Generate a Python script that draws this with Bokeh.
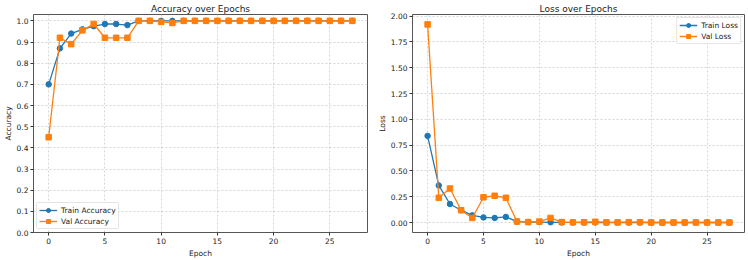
from bokeh.plotting import figure
from bokeh.layouts import row
from bokeh.models import FixedTicker, Range1d, NumeralTickFormatter
from bokeh.embed import file_html
from bokeh.resources import INLINE

epochs = list(range(28))
train_acc = [0.70, 0.87, 0.94, 0.96, 0.975, 0.985, 0.985, 0.98, 1.0, 1.0, 1.0, 1.0, 1.0, 1.0,
             1.0, 1.0, 1.0, 1.0, 1.0, 1.0, 1.0, 1.0, 1.0, 1.0, 1.0, 1.0, 1.0, 1.0]
val_acc = [0.45, 0.92, 0.89, 0.955, 0.985, 0.92, 0.92, 0.92, 1.0, 1.0, 0.995, 0.99, 1.0, 1.0,
           1.0, 1.0, 1.0, 1.0, 1.0, 1.0, 1.0, 1.0, 1.0, 1.0, 1.0, 1.0, 1.0, 1.0]
train_loss = [0.84, 0.36, 0.18, 0.12, 0.07, 0.05, 0.045, 0.055, 0.01, 0.005, 0.005, 0.003, 0.002, 0.002,
              0.001, 0.001, 0.001, 0.001, 0.001, 0.001, 0.001, 0.001, 0.001, 0.001, 0.001, 0.001, 0.001, 0.001]
val_loss = [1.92, 0.24, 0.33, 0.12, 0.045, 0.245, 0.26, 0.24, 0.01, 0.005, 0.01, 0.045, 0.005, 0.003,
            0.003, 0.008, 0.002, 0.002, 0.004, 0.004, 0.001, 0.001, 0.001, 0.001, 0.001, 0.001, 0.001, 0.001]
x_ticks = [0, 5, 10, 15, 20, 25]
acc_ticks = [0.0, 0.1, 0.2, 0.3, 0.4, 0.5, 0.6, 0.7, 0.8, 0.9, 1.0]
loss_ticks = [0.0, 0.25, 0.5, 0.75, 1.0, 1.25, 1.5, 1.75, 2.0]

BLUE = "#1f77b4"
ORANGE = "#ff7f0e"
FONT = "DejaVu Sans"


def make(title, ylabel, y0, y1, yticks, fmt, series, legend_loc, min_left, min_right):
    p = figure(width=374, height=260, output_backend="svg", toolbar_location=None,
               x_range=Range1d(-1.35, 28.35), y_range=Range1d(y0, y1),
               min_border_left=min_left, min_border_right=min_right, min_border_top=4,
               min_border_bottom=27)
    p.title.text = title
    p.title.align = "center"
    p.title.text_font = FONT
    p.title.text_font_size = "9px"
    p.title.text_font_style = "normal"
    p.title.text_color = "#222222"
    p.title.offset = 0
    p.title.standoff = 2
    for ys, color, marker, label in series:
        p.line(epochs, ys, color=color, line_width=1.3, legend_label=label)
        p.scatter(epochs, ys, marker=marker, size=5.5,
                  fill_color=color, line_color=color, legend_label=label)
    for ax in (p.xaxis, p.yaxis):
        ax.axis_line_color = None
        ax.minor_tick_line_color = None
        ax.major_tick_line_color = "#333333"
        ax.major_tick_out = 3
        ax.major_tick_in = 0
        ax.major_label_text_font = FONT
        ax.major_label_text_font_size = "7.5px"
        ax.major_label_text_color = "#222222"
        ax.axis_label_text_font = FONT
        ax.axis_label_text_font_size = "7.5px"
        ax.axis_label_text_font_style = "normal"
        ax.axis_label_text_color = "#222222"
        ax.major_label_standoff = 2
        ax.axis_label_standoff = 2
    p.yaxis.axis_label_standoff = 1
    p.xaxis.ticker = FixedTicker(ticks=x_ticks)
    p.yaxis.ticker = FixedTicker(ticks=yticks)
    p.yaxis.formatter = NumeralTickFormatter(format=fmt)
    p.xaxis.axis_label = "Epoch"
    p.yaxis.axis_label = ylabel
    p.outline_line_color = "#555555"
    p.outline_line_width = 1
    p.xgrid.ticker = FixedTicker(ticks=x_ticks)
    p.ygrid.ticker = FixedTicker(ticks=yticks)
    for g in (p.xgrid, p.ygrid):
        g.grid_line_color = "#cccccc"
        g.grid_line_dash = "2 2"
        g.grid_line_width = 0.8
    lg = p.legend[0]
    lg.location = legend_loc
    lg.label_text_font = FONT
    lg.label_text_font_size = "7.5px"
    lg.label_text_color = "#222222"
    lg.glyph_width = 18
    lg.glyph_height = 10
    lg.label_height = 10
    lg.spacing = 1
    lg.padding = 2
    lg.margin = 3
    lg.label_standoff = 4
    lg.border_line_color = "#cccccc"
    lg.border_radius = 2
    lg.background_fill_alpha = 0.85
    return p


p1 = make("Accuracy over Epochs", "Accuracy", 0.0, 1.03, acc_ticks, "0.0",
          [(train_acc, BLUE, "circle", "Train Accuracy"), (val_acc, ORANGE, "square", "Val Accuracy")],
          "bottom_left", 31, 7)
p2 = make("Loss over Epochs", "Loss", -0.096, 2.016, loss_ticks, "0.00",
          [(train_loss, BLUE, "circle", "Train Loss"), (val_loss, ORANGE, "square", "Val Loss")],
          "top_right", 33, 4)

layout = row(p1, p2)
open("out.html", "w").write(file_html(layout, INLINE))
